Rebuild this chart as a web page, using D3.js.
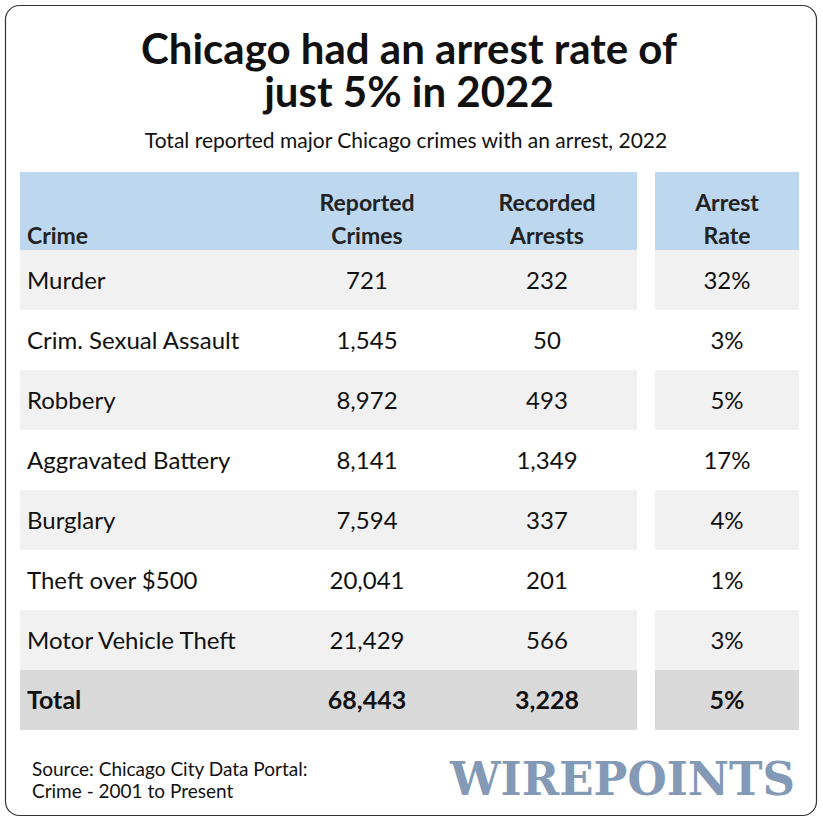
<!DOCTYPE html><html><head><meta charset="utf-8"><script src="https://cdn.jsdelivr.net/npm/d3@7"></script>
<style>body{margin:0;background:#fff}</style></head><body><svg id="c" width="823" height="821"></svg>
<script>
const crimes=["Murder","Crim. Sexual Assault","Robbery","Aggravated Battery","Burglary","Theft over $500","Motor Vehicle Theft"];
const reported=[721,1545,8972,8141,7594,20041,21429];
const arrests=[232,50,493,1349,337,201,566];
const rates=[32,3,5,17,4,1,3];
const total={reported:68443,arrests:3228,rate:5};
const svg=d3.select("#c");const F="Lato, 'Open Sans', sans-serif";
svg.append("rect").attr("x",5.5).attr("y",5.5).attr("width",811).attr("height",810).attr("rx",14).attr("fill","#fff").attr("stroke","#333").attr("stroke-width",1.2);
[["Chicago had an arrest rate of",64],["just 5% in 2022",107]].forEach(([t,y])=>svg.append("text").attr("x",409).attr("y",y).attr("text-anchor","middle").attr("font-family",F).attr("font-weight",700).attr("font-size",42).attr("fill","#111").text(t));
svg.append("text").attr("x",406).attr("y",148).attr("text-anchor","middle").attr("font-family",F).attr("font-size",21).attr("fill","#111").text("Total reported major Chicago crimes with an arrest, 2022");
const rows=crimes.map((c,i)=>({c,r:d3.format(",")(reported[i]),a:d3.format(",")(arrests[i]),p:rates[i]+"%"}));
rows.push({c:"Total",r:d3.format(",")(total.reported),a:d3.format(",")(total.arrests),p:total.rate+"%",tot:true});
const y=d3.scaleBand().domain(d3.range(rows.length)).range([250,730]);
svg.append("rect").attr("x",20).attr("y",172).attr("width",617).attr("height",78).attr("fill","#bdd7ee");
svg.append("rect").attr("x",655).attr("y",172).attr("width",144).attr("height",78).attr("fill","#bdd7ee");
rows.forEach((d,i)=>{const fill=d.tot?"#d9d9d9":(i%2==0?"#f1f1f1":"#fff");
 svg.append("rect").attr("x",20).attr("y",y(i)).attr("width",617).attr("height",y.bandwidth()).attr("fill",fill);
 svg.append("rect").attr("x",655).attr("y",y(i)).attr("width",144).attr("height",y.bandwidth()).attr("fill",fill);
 const ty=y(i)+y.bandwidth()/2+9,w=d.tot?700:400,fs=d.tot?25:24;
 const t=(x,s,a)=>svg.append("text").attr("x",x).attr("y",ty).attr("text-anchor",a).attr("font-family",F).attr("font-weight",w).attr("font-size",fs).attr("fill","#111").text(s);
 t(27,d.c,"start");t(367,d.r,"middle");t(547,d.a,"middle");t(727,d.p,"middle");});
const h=(x,a,l1,l2)=>{if(l1)svg.append("text").attr("x",x).attr("y",211).attr("text-anchor",a).attr("font-family",F).attr("font-weight",700).attr("font-size",23).attr("fill","#222").text(l1);
 svg.append("text").attr("x",x).attr("y",244).attr("text-anchor",a).attr("font-family",F).attr("font-weight",700).attr("font-size",23).attr("fill","#222").text(l2);};
h(27,"start",null,"Crime");h(367,"middle","Reported","Crimes");h(547,"middle","Recorded","Arrests");h(727,"middle","Arrest","Rate");
["Source: Chicago City Data Portal:","Crime - 2001 to Present"].forEach((t,i)=>svg.append("text").attr("x",32).attr("y",776+i*22).attr("font-family",F).attr("font-size",19).attr("fill","#111").text(t));
svg.append("text").attr("x",795).attr("y",795).attr("text-anchor","end").attr("font-family","'DejaVu Serif', 'Liberation Serif', serif").attr("font-weight",700).attr("font-size",46).attr("textLength",345).attr("lengthAdjust","spacingAndGlyphs").attr("fill","#8499b6").text("WIREPOINTS");
</script></body></html>
